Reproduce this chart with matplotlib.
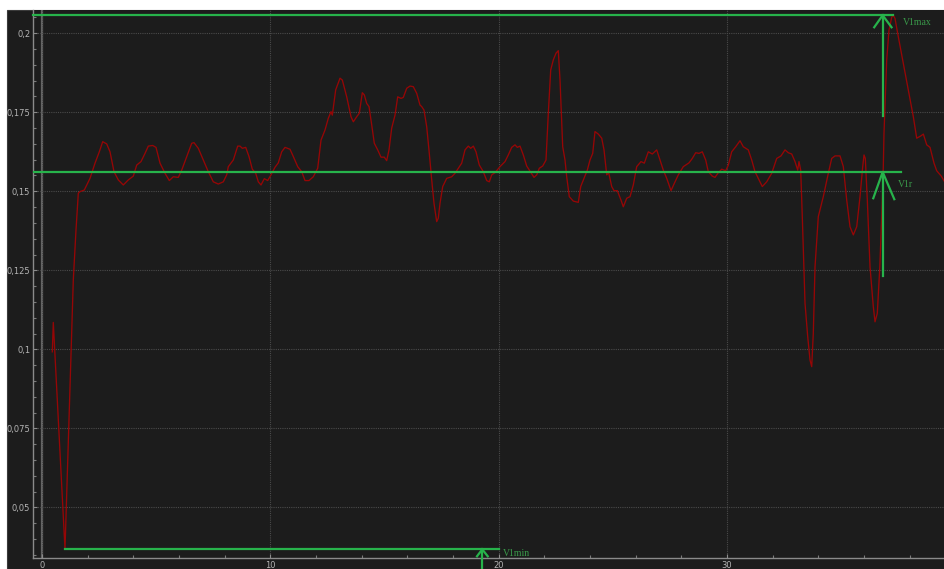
import matplotlib
matplotlib.use("Agg")
import matplotlib.pyplot as plt
from matplotlib.patches import Rectangle
from matplotlib.ticker import MultipleLocator, FixedLocator

# ---- data ----
time_s = [0.455, 0.499, 1.011, 1.375, 1.493, 1.594, 1.668, 1.856, 2.106, 2.325, 2.513, 2.662,
          2.837, 2.982, 3.157, 3.345, 3.564, 3.783, 4.002, 4.151, 4.339, 4.514, 4.659, 4.851,
          4.996, 5.171, 5.390, 5.578, 5.753, 5.972, 6.121, 6.340, 6.559, 6.659, 6.848, 7.067,
          7.285, 7.504, 7.723, 7.942, 8.091, 8.161, 8.380, 8.573, 8.673, 8.774, 8.923, 9.067,
          9.212, 9.361, 9.475, 9.593, 9.737, 9.886, 10.031, 10.206, 10.350, 10.499, 10.644,
          10.863, 11.007, 11.200, 11.375, 11.519, 11.694, 11.883, 12.075, 12.220, 12.395,
          12.539, 12.658, 12.715, 12.863, 13.052, 13.153, 13.345, 13.533, 13.634, 13.783,
          13.897, 14.028, 14.116, 14.221, 14.322, 14.440, 14.553, 14.702, 14.847, 14.991,
          15.096, 15.197, 15.315, 15.460, 15.578, 15.722, 15.823, 15.972, 16.116, 16.261,
          16.410, 16.554, 16.629, 16.729, 16.848, 16.961, 17.067, 17.167, 17.285, 17.356,
          17.430, 17.548, 17.723, 17.942, 18.087, 18.231, 18.380, 18.524, 18.669, 18.774,
          18.888, 19.006, 19.151, 19.326, 19.475, 19.589, 19.694, 19.838, 20.057, 20.276,
          20.420, 20.569, 20.714, 20.814, 20.933, 21.077, 21.226, 21.414, 21.546, 21.664,
          21.778, 21.926, 22.071, 22.172, 22.277, 22.391, 22.509, 22.609, 22.684, 22.802,
          22.903, 22.977, 23.091, 23.266, 23.485, 23.590, 23.735, 23.879, 23.997, 24.115,
          24.216, 24.361, 24.510, 24.611, 24.729, 24.816, 24.948, 25.048, 25.193, 25.355,
          25.455, 25.604, 25.749, 25.893, 26.042, 26.230, 26.375, 26.550, 26.725, 26.918,
          27.062, 27.207, 27.356, 27.544, 27.688, 27.863, 28.082, 28.332, 28.476, 28.625,
          28.770, 28.914, 29.063, 29.177, 29.352, 29.470, 29.615, 29.764, 29.939, 30.053,
          30.201, 30.377, 30.565, 30.709, 30.928, 31.077, 31.222, 31.397, 31.541, 31.734,
          31.953, 32.172, 32.360, 32.535, 32.680, 32.829, 32.973, 33.091, 33.148, 33.222,
          33.292, 33.411, 33.529, 33.630, 33.704, 33.774, 33.849, 33.993, 34.212, 34.431,
          34.580, 34.725, 34.944, 35.088, 35.237, 35.381, 35.526, 35.675, 35.819, 35.937,
          35.994, 36.051, 36.139, 36.257, 36.401, 36.476, 36.576, 36.686, 36.795, 36.839,
          36.869, 36.988, 37.088, 37.207, 37.277, 37.351, 37.496, 37.715, 37.934, 38.153,
          38.301, 38.476, 38.592, 38.740, 38.884, 39.059, 39.177, 39.378, 39.523]

speed = [0.0992, 0.1085, 0.0367, 0.1220, 0.1378, 0.1494, 0.1499, 0.1504, 0.1541, 0.1589, 0.1625, 0.1657,
         0.1650, 0.1625, 0.1562, 0.1536, 0.1520, 0.1536, 0.1548, 0.1583, 0.1594, 0.1620, 0.1643, 0.1645,
         0.1639, 0.1589, 0.1557, 0.1534, 0.1546, 0.1544, 0.1567, 0.1610, 0.1652, 0.1654, 0.1636, 0.1599,
         0.1562, 0.1530, 0.1523, 0.1530, 0.1552, 0.1578, 0.1599, 0.1643, 0.1643, 0.1636, 0.1639, 0.1610,
         0.1570, 0.1557, 0.1530, 0.1520, 0.1540, 0.1534, 0.1552, 0.1576, 0.1590, 0.1625, 0.1639,
         0.1633, 0.1610, 0.1578, 0.1562, 0.1534, 0.1534, 0.1546, 0.1573, 0.1662, 0.1694,
         0.1731, 0.1752, 0.1741, 0.1821, 0.1858, 0.1852, 0.1799, 0.1736, 0.1720, 0.1736,
         0.1747, 0.1812, 0.1805, 0.1778, 0.1768, 0.1710, 0.1652, 0.1631, 0.1608, 0.1608,
         0.1597, 0.1631, 0.1700, 0.1741, 0.1799, 0.1794, 0.1797, 0.1826, 0.1833, 0.1831,
         0.1810, 0.1773, 0.1768, 0.1757, 0.1704, 0.1620, 0.1536, 0.1462, 0.1404, 0.1415,
         0.1462, 0.1515, 0.1541, 0.1546, 0.1557, 0.1573, 0.1589, 0.1631, 0.1643, 0.1636,
         0.1643, 0.1625, 0.1583, 0.1562, 0.1534, 0.1530, 0.1552, 0.1559, 0.1578, 0.1594,
         0.1615, 0.1639, 0.1647, 0.1639, 0.1643, 0.1615, 0.1580, 0.1559, 0.1544, 0.1552,
         0.1573, 0.1580, 0.1599, 0.1747, 0.1884, 0.1916, 0.1937, 0.1945, 0.1852, 0.1641,
         0.1599, 0.1546, 0.1483, 0.1469, 0.1465, 0.1515, 0.1541, 0.1567, 0.1599, 0.1620,
         0.1689, 0.1681, 0.1668, 0.1631, 0.1552, 0.1559, 0.1515, 0.1502, 0.1502, 0.1472,
         0.1451, 0.1478, 0.1483, 0.1520, 0.1578, 0.1594, 0.1589, 0.1625, 0.1618, 0.1631,
         0.1599, 0.1567, 0.1541, 0.1502, 0.1525, 0.1552, 0.1578, 0.1590, 0.1604, 0.1622,
         0.1620, 0.1625, 0.1599, 0.1562, 0.1548, 0.1544, 0.1559, 0.1570, 0.1565, 0.1583,
         0.1625, 0.1641, 0.1660, 0.1641, 0.1631, 0.1599, 0.1562, 0.1536, 0.1515, 0.1530,
         0.1557, 0.1604, 0.1612, 0.1631, 0.1622, 0.1618, 0.1594, 0.1567, 0.1594, 0.1567,
         0.1420, 0.1146, 0.1040, 0.0966, 0.0945, 0.1051, 0.1261, 0.1420, 0.1483, 0.1557,
         0.1604, 0.1612, 0.1612, 0.1578, 0.1472, 0.1388, 0.1362, 0.1388, 0.1483, 0.1578,
         0.1615, 0.1604, 0.1472, 0.1261, 0.1135, 0.1087, 0.1114, 0.1261, 0.1472, 0.1578,
         0.1684, 0.1916, 0.2010, 0.2051, 0.2057, 0.2047, 0.1989, 0.1905, 0.1821, 0.1736,
         0.1668, 0.1675, 0.1681, 0.1647, 0.1639, 0.1589, 0.1565, 0.1548, 0.1530]

y_ticks = [0.05, 0.075, 0.1, 0.125, 0.15, 0.175, 0.2]
y_tick_labels = ["0,05", "0,075", "0,1", "0,125", "0,15", "0,175", "0,2"]
x_ticks = [0, 10, 20, 30]
x_tick_labels = ["0", "10", "20", "30"]

v1max = 0.2057
v1r = 0.1561
v1min = 0.0367
v1max_t = 37.28
v1min_t0, v1min_t1 = 1.01, 20.0
marker_t = 36.81          # V1max / V1r arrow position
v1min_arrow_t = 19.28

# ---- figure ----
W, H = 945, 569
fig = plt.figure(figsize=(W / 100, H / 100), dpi=100, facecolor="white")
bg = "#1c1c1c"
fig.patches.append(Rectangle((7 / W, 0), 1 - 7 / W, (H - 10) / H, transform=fig.transFigure,
                             facecolor=bg, edgecolor="#3a3a3a", lw=0.8, zorder=-10))

ax = fig.add_axes([33 / W, (H - 558) / H, (W - 33) / W, (558 - 10) / H])
ax.set_zorder(1)
ax.set_facecolor(bg)
ax.set_xlim(-0.39, 39.54)
ax.set_ylim(0.03396, 0.20737)

for s in ["top", "right"]:
    ax.spines[s].set_visible(False)
for s in ["left", "bottom"]:
    ax.spines[s].set_color("#8a8a8a")
    ax.spines[s].set_linewidth(1.0)

ax.yaxis.set_major_locator(FixedLocator(y_ticks))
ax.set_yticklabels(y_tick_labels)
ax.xaxis.set_major_locator(FixedLocator(x_ticks))
ax.set_xticklabels(x_tick_labels)
ax.yaxis.set_minor_locator(MultipleLocator(0.005))
ax.xaxis.set_minor_locator(MultipleLocator(2))
ax.tick_params(axis="both", which="major", colors="#8a8a8a", labelcolor="#b4b4b4",
               labelsize=6, length=3, width=0.8, direction="in", pad=2)
ax.tick_params(axis="both", which="minor", colors="#7a7a7a", length=2, width=0.8, direction="in")

ax.grid(True, which="major", color="#4a4a4a", linestyle=(0, (1, 1)), linewidth=0.8)
ax.axvline(0, color="#666666", lw=1.6, zorder=1)

# data line
ax.plot(time_s, speed, color="#960606", lw=0.95, zorder=3)

# ---- annotations ----
g = "#27b34b"
gt = "#3a9a4a"
lw = 1.6
# V1max
ax.plot([-0.39, v1max_t], [v1max, v1max], color=g, lw=lw, zorder=4, clip_on=False)
ax.plot([marker_t, marker_t], [v1max, 0.1738], color=g, lw=lw, zorder=4)
ax.plot([marker_t - 0.37, marker_t, marker_t + 0.39], [v1max - 0.0038, v1max, v1max - 0.0038],
        color=g, lw=lw, zorder=4, clip_on=False)
ax.text(37.71, 0.2033, "V1max", color=gt, fontsize=7, family="Liberation Serif",
        ha="left", va="center", zorder=5)
# V1r
ax.plot([-0.39, 37.60], [v1r, v1r], color=g, lw=lw, zorder=4)
ax.plot([marker_t, marker_t], [v1r, 0.1232], color=g, lw=lw, zorder=4)
ax.plot([marker_t - 0.41, marker_t, marker_t + 0.51], [v1r - 0.0083, v1r, v1r - 0.0086],
        color=g, lw=lw, zorder=4)
ax.text(37.48, 0.1523, "V1r", color=gt, fontsize=7, family="Liberation Serif",
        ha="left", va="center", zorder=5)
# V1min
ax.plot([v1min_t0, v1min_t1], [v1min, v1min], color=g, lw=lw, zorder=4)
ax.plot([v1min_arrow_t, v1min_arrow_t], [v1min, 0.0305], color=g, lw=lw, zorder=4, clip_on=False)
ax.plot([v1min_arrow_t - 0.23, v1min_arrow_t, v1min_arrow_t + 0.24],
        [v1min - 0.0022, v1min, v1min - 0.0022], color=g, lw=lw, zorder=4, clip_on=False)
ax.text(20.19, 0.0355, "V1min", color=gt, fontsize=7, family="Liberation Serif",
        ha="left", va="center", zorder=5, clip_on=False)

fig.savefig("out.png", dpi=100, facecolor=fig.get_facecolor())
